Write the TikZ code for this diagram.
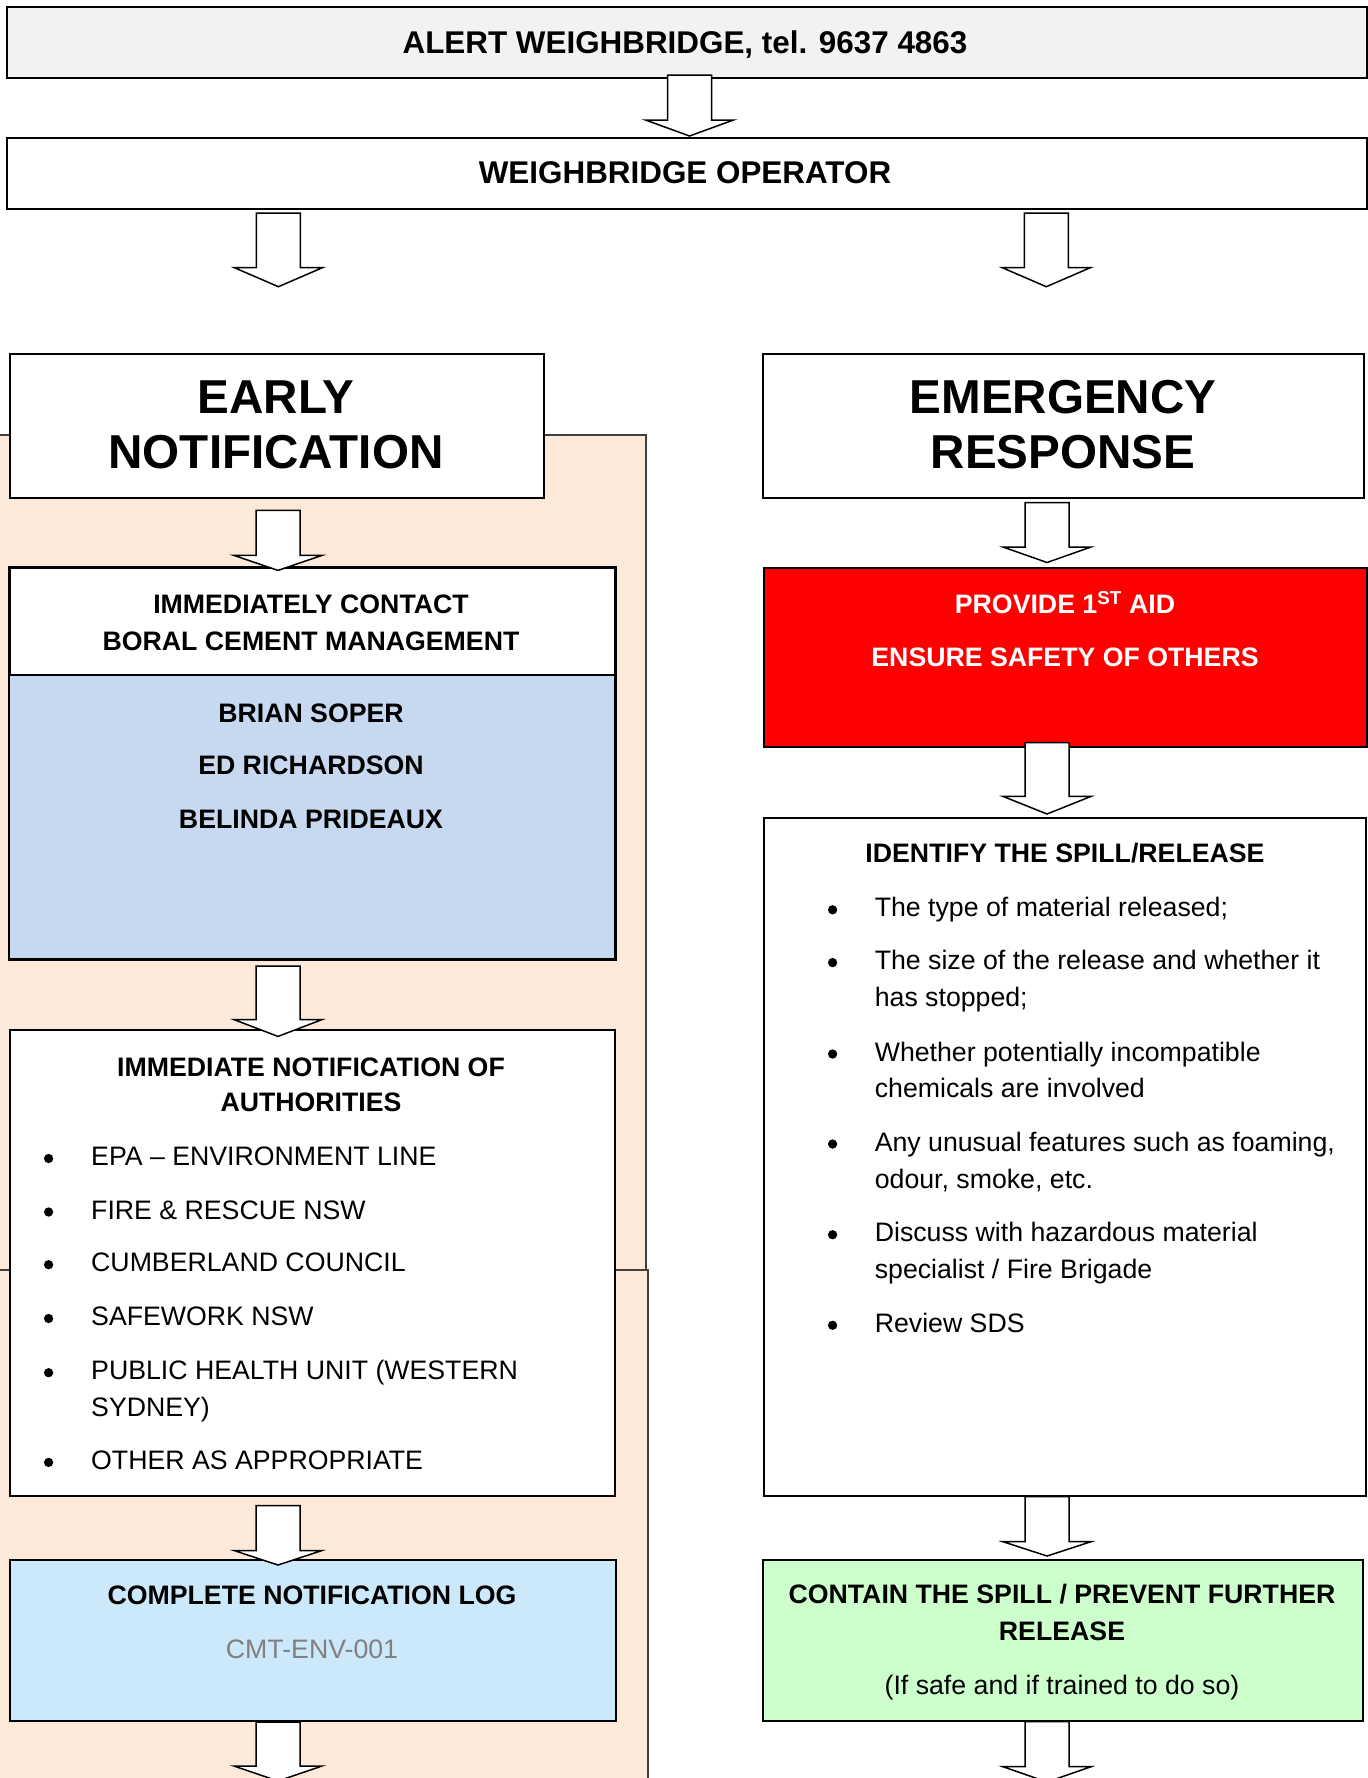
\documentclass[tikz,border=0pt]{standalone}
\usepackage{fontspec}
\setmainfont{Liberation Sans}
\definecolor{peach}{HTML}{FCE9DA}
\definecolor{secblue}{HTML}{C6D9F1}
\definecolor{logblue}{HTML}{CCE9FC}
\definecolor{grn}{HTML}{CCFFCC}
\definecolor{topgray}{HTML}{F2F2F2}
\definecolor{redbox}{HTML}{FF0000}
\definecolor{codegray}{HTML}{808080}
\newcommand\blkarrow[4]{%
  \draw[blk] ({#1-22},#2) -- ({#1+22},#2) -- ({#1+22},#3) -- ({#1+44},#3)
    -- (#1,#4) -- ({#1-44},#3) -- ({#1-22},#3) -- cycle;}
\begin{document}
\begin{tikzpicture}[x=1pt,y=-1pt,
  box/.style={draw=black, line width=2pt, inner sep=0pt, anchor=north west, fill=white},
  peachbox/.style={fill=peach, draw=black!75, line width=1.5pt},
  blk/.style={draw=black, line width=1.5pt, fill=white, line join=miter},
  bt/.style={anchor=base, inner sep=0pt, font=\bfseries\fontsize{26.7}{32}\selectfont},
  big/.style={anchor=base, inner sep=0pt, font=\bfseries\fontsize{47.6}{54}\selectfont},
  hd/.style={anchor=base, inner sep=0pt, font=\bfseries\fontsize{31.4}{36}\selectfont},
  rt/.style={anchor=base west, inner sep=0pt, font=\fontsize{26.7}{32}\selectfont},
  ct/.style={anchor=base, inner sep=0pt, font=\fontsize{26.7}{32}\selectfont},
  bul/.style={circle, fill=black, inner sep=0pt, minimum size=9.3pt}]
\useasboundingbox (0,0) rectangle (1368,1778);
% peach background panels
\path[peachbox] (-5,435) rectangle (646,1270);
\path[peachbox] (-5,1270) rectangle (648,1790);
% boxes
\node[box, fill=topgray, minimum width=1360pt, minimum height=71pt] (alert) at (6,6) {};
\node[box, minimum width=1360pt, minimum height=71pt] (wbop) at (6,137) {};
\node[box, minimum width=534pt, minimum height=144pt] (early) at (9,353) {};
\node[box, minimum width=601pt, minimum height=144pt] (emerg) at (762,353) {};
\node[box, minimum width=605pt, minimum height=391pt] (contact) at (9,567) {};
\fill[secblue] (9,675) rectangle (614,958);
\draw[line width=2pt] (9,675) -- (614,675);
\draw[line width=2pt] (contact.north west) rectangle (contact.south east);
\node[box, minimum width=605pt, minimum height=466pt] (auth) at (9,1029) {};
\node[box, fill=logblue, minimum width=606pt, minimum height=161.5pt] (log) at (9,1558.5) {};
\node[box, fill=redbox, minimum width=603.5pt, minimum height=179pt] (aid) at (762.5,567) {};
\node[box, minimum width=602.5pt, minimum height=678pt] (ident) at (762.5,817) {};
\node[box, fill=grn, minimum width=600pt, minimum height=161.5pt] (contain) at (762,1558.5) {};
% texts
\node[hd] (t1) at (685,53.3) {ALERT WEIGHBRIDGE, tel. 9637 4863};
\node[hd] (t2) at (685,183.3) {WEIGHBRIDGE OPERATOR};
\node[big] (t3) at (276,413.3) {EARLY};
\node[big] (t4) at (276,468) {NOTIFICATION};
\node[big] (t5) at (1063,413.3) {EMERGENCY};
\node[big] (t6) at (1063,468) {RESPONSE};
\node[bt] (c1) at (311,613.2) {IMMEDIATELY CONTACT};
\node[bt] (c2) at (311,650.7) {BORAL CEMENT MANAGEMENT};
\node[bt] (c3) at (311,722) {BRIAN SOPER};
\node[bt] (c4) at (311,774.6) {ED RICHARDSON};
\node[bt] (c5) at (311,828.2) {BELINDA PRIDEAUX};
\node[bt] (a1) at (311,1076) {IMMEDIATE NOTIFICATION OF};
\node[bt] (a2) at (311,1111.7) {AUTHORITIES};
\foreach \yy/\tx [count=\i] in {1165.5/{EPA – ENVIRONMENT LINE}, 1219/{FIRE \& RESCUE NSW}, 1271.7/{CUMBERLAND COUNCIL}, 1325.5/{SAFEWORK NSW}, 1379.7/{PUBLIC HEALTH UNIT (WESTERN}, 1469.4/{OTHER AS APPROPRIATE}}{
  \node[bul] (ab\i) at (48.6,{\yy-7}) {};
  \node[rt] (at\i) at (91,\yy) {\tx};
}
\node[rt] (at5b) at (91,1416) {SYDNEY)};
\node[bt] (l1) at (312,1604) {COMPLETE NOTIFICATION LOG};
\node[ct, text=codegray] (l2) at (312,1658.7) {CMT-ENV-001};
\node[bt, text=white] (r1) at (1065,613.2) {PROVIDE 1\textsuperscript{ST} AID};
\node[bt, text=white] (r2) at (1065,666.8) {ENSURE SAFETY OF OTHERS};
\node[bt] (i0) at (1065,862.5) {IDENTIFY THE SPILL/RELEASE};
\foreach \yy/\tx [count=\i] in {916.8/{The type of material released;}, 969.6/{The size of the release and whether it}, 1061/{Whether potentially incompatible}, 1151/{Any unusual features such as foaming,}, 1241.7/{Discuss with hazardous material}, 1332.3/{Review SDS}}{
  \node[bul] (ib\i) at (832.6,{\yy-7}) {};
  \node[rt] (it\i) at (874.6,\yy) {\tx};
}
\node[rt] (it2b) at (874.6,1006) {has stopped;};
\node[rt] (it3b) at (874.6,1097.7) {chemicals are involved};
\node[rt] (it4b) at (874.6,1188.3) {odour, smoke, etc.};
\node[rt] (it5b) at (874.6,1278.3) {specialist / Fire Brigade};
\node[bt] (g1) at (1062,1603.3) {CONTAIN THE SPILL / PREVENT FURTHER};
\node[bt] (g2) at (1062,1640.7) {RELEASE};
\node[ct] (g3) at (1062,1694.3) {(If safe and if trained to do so)};
% block arrows
\blkarrow{689.5}{75}{120}{136}
\blkarrow{278.4}{213}{267.7}{286.7}
\blkarrow{1046.3}{213}{267.7}{286.7}
\blkarrow{278}{510.4}{555.4}{570.4}
\blkarrow{278}{966}{1019.6}{1036.4}
\blkarrow{278}{1505.5}{1550.5}{1565}
\blkarrow{278}{1722}{1766}{1781}
\blkarrow{1047}{502.5}{547}{562.5}
\blkarrow{1047}{742.5}{796.4}{814}
\blkarrow{1047}{1496.7}{1541.7}{1556}
\blkarrow{1047}{1721.7}{1766.7}{1782}
\end{tikzpicture}
\end{document}
